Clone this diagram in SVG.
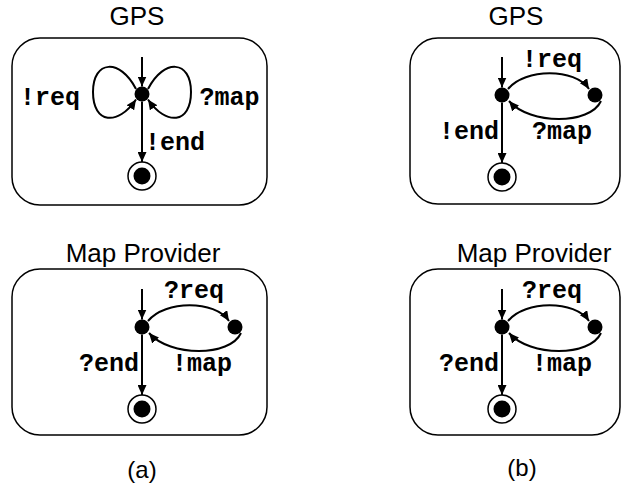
<svg xmlns="http://www.w3.org/2000/svg" width="623" height="501" viewBox="0 0 623 501">
<style>
.box{fill:none;stroke:#000;stroke-width:1.5}
.title{font-family:"Liberation Sans",Arial,sans-serif;font-size:26px;fill:#000;text-anchor:middle}
.lbl{font-family:"Liberation Mono","Courier New",monospace;font-size:25px;font-weight:bold;fill:#000}
.edge{fill:none;stroke:#000;stroke-width:2;marker-end:url(#ah)}
.st{fill:#000}
.fin{fill:#fff;stroke:#000;stroke-width:1.5}
</style>
<defs>
<marker id="ah" markerUnits="userSpaceOnUse" markerWidth="10" markerHeight="9" refX="10" refY="4.5" orient="auto">
<path d="M0,0 L10,4.5 L0,9 z" fill="#000"/>
</marker>
</defs>
<rect width="623" height="501" fill="#fff"/>
<text class="title" x="137" y="25">GPS</text>
<text class="title" x="516" y="25">GPS</text>
<text class="title" x="143" y="262">Map Provider</text>
<text class="title" x="534" y="262">Map Provider</text>
<text class="title" x="142" y="478" style="font-size:24px">(a)</text>
<text class="title" x="522" y="476" style="font-size:24px">(b)</text>
<rect class="box" x="12" y="38" width="255" height="167" rx="28"/>
<rect class="box" x="410" y="38" width="210" height="166" rx="28"/>
<rect class="box" x="12" y="269" width="255" height="166" rx="28"/>
<rect class="box" x="410" y="269" width="210" height="166" rx="28"/>

<!-- panel a top: GPS with self loops -->
<g id="a-gps" transform="translate(142,94)">
<g id="connectors-a-gps">
<path class="edge" d="M0,-37 L0,-7.5"/>
<path class="edge" d="M-6,-5 C-22,-36 -49,-34 -49,-2 C-49,30 -24,32 -6,5.5"/>
<path class="edge" d="M6,-5 C22,-36 49,-34 49,-2 C49,30 24,32 6,5.5"/>
<path class="edge" d="M0,7.5 L0,68"/>
</g>
<g id="a-gps-s0"><circle class="st" cx="0" cy="0" r="7.5"/></g>
<g id="a-gps-final"><circle class="fin" cx="0" cy="82" r="14"/><circle class="st" cx="0" cy="82" r="8.5"/></g>
<text class="lbl" x="-122" y="11">!req</text>
<text class="lbl" x="57.5" y="11">?map</text>
<text class="lbl" x="3" y="56">!end</text>
</g>

<!-- panel b top: GPS two states -->
<g id="b-gps" transform="translate(502,95)">
<g id="connectors-b-gps">
<path class="edge" d="M0,-38 L0,-7.5"/>
<path class="edge" d="M6,-6 C23,-27 73,-27 87,-6"/>
<path class="edge" d="M99,6 C88,30 28,30 7,6"/>
<path class="edge" d="M0,7.5 L0,68"/>
</g>
<g id="b-gps-s0"><circle class="st" cx="0" cy="0" r="7.5"/></g>
<g id="b-gps-s1"><circle class="st" cx="93" cy="0" r="7.5"/></g>
<g id="b-gps-final"><circle class="fin" cx="0" cy="82" r="14"/><circle class="st" cx="0" cy="82" r="8.5"/></g>
<text class="lbl" x="20" y="-28">!req</text>
<text class="lbl" x="-3" y="44" text-anchor="end">!end</text>
<text class="lbl" x="30" y="44">?map</text>
</g>

<!-- panel a bottom: Map Provider -->
<g id="a-mp" transform="translate(142,327)">
<g id="connectors-a-mp">
<path class="edge" d="M0,-38 L0,-7.5"/>
<path class="edge" d="M6,-6 C23,-27 73,-27 87,-6"/>
<path class="edge" d="M99,6 C88,30 28,30 7,6"/>
<path class="edge" d="M0,7.5 L0,68"/>
</g>
<g id="a-mp-s0"><circle class="st" cx="0" cy="0" r="7.5"/></g>
<g id="a-mp-s1"><circle class="st" cx="93" cy="0" r="7.5"/></g>
<g id="a-mp-final"><circle class="fin" cx="0" cy="82" r="14"/><circle class="st" cx="0" cy="82" r="8.5"/></g>
<text class="lbl" x="22" y="-29">?req</text>
<text class="lbl" x="-3" y="44" text-anchor="end">?end</text>
<text class="lbl" x="30" y="44">!map</text>
</g>

<!-- panel b bottom: Map Provider -->
<g id="b-mp" transform="translate(502,327)">
<g id="connectors-b-mp">
<path class="edge" d="M0,-38 L0,-7.5"/>
<path class="edge" d="M6,-6 C23,-27 73,-27 87,-6"/>
<path class="edge" d="M99,6 C88,30 28,30 7,6"/>
<path class="edge" d="M0,7.5 L0,68"/>
</g>
<g id="b-mp-s0"><circle class="st" cx="0" cy="0" r="7.5"/></g>
<g id="b-mp-s1"><circle class="st" cx="93" cy="0" r="7.5"/></g>
<g id="b-mp-final"><circle class="fin" cx="0" cy="82" r="14"/><circle class="st" cx="0" cy="82" r="8.5"/></g>
<text class="lbl" x="20" y="-29">?req</text>
<text class="lbl" x="-3" y="44" text-anchor="end">?end</text>
<text class="lbl" x="30" y="44">!map</text>
</g>
</svg>
